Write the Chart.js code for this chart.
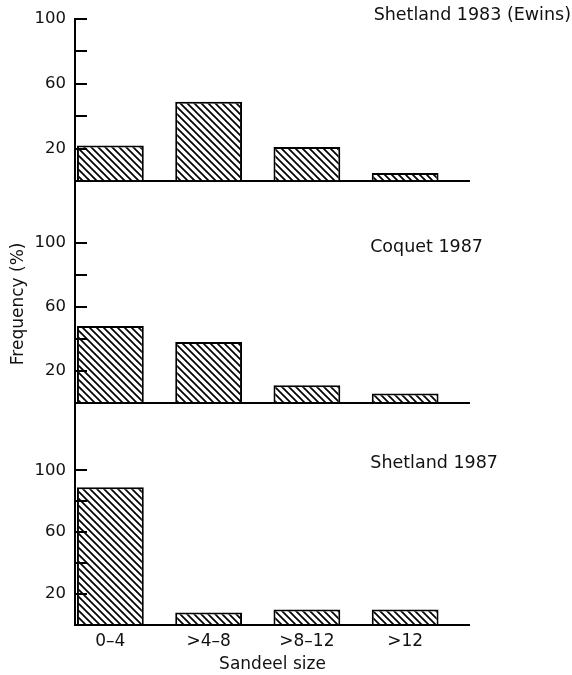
<!DOCTYPE html>
<html>
<head>
<meta charset="utf-8">
<script src="https://cdn.jsdelivr.net/npm/chart.js@4/dist/chart.umd.min.js"></script>
<style>
  html, body { margin: 0; padding: 0; background: #fff; }
  #wrap { width: 572px; height: 675px; position: relative; }
</style>
</head>
<body>
<div id="wrap"><canvas id="c" width="572" height="675"></canvas></div>
<script>
// Sandeel size classes and the frequency (%) of each in the three samples
const sizeClasses = ['0–4', '>4–8', '>8–12', '>12'];
const shetland1983 = [22, 49, 21, 5];
const coquet1987 = [48, 38, 11, 6];
const shetland1987 = [89, 8, 10, 10];
const panelTitles = ['Shetland 1983 (Ewins)', 'Coquet 1987', 'Shetland 1987'];
const yTickValues = [0, 20, 40, 60, 80, 100];
const yTickLabels = ['', '20', '', '60', '', '100'];

const FONT = '"DejaVu Sans", sans-serif';
const INK = '#111';

// diagonal "\" hatching used to fill every bar
function makeHatch() {
  const s = 7;
  const tile = document.createElement('canvas');
  tile.width = s; tile.height = s;
  const g = tile.getContext('2d');
  g.fillStyle = '#fff';
  g.fillRect(0, 0, s, s);
  g.strokeStyle = '#000';
  g.lineWidth = 1.7;
  g.beginPath();
  g.moveTo(-1, -1); g.lineTo(s + 1, s + 1);
  g.moveTo(-1, s - 1); g.lineTo(1, s + 1);
  g.moveTo(s - 1, -1); g.lineTo(s + 1, 1);
  g.stroke();
  return document.getElementById('c').getContext('2d').createPattern(tile, 'repeat');
}
const hatch = makeHatch();

// one stacked y axis per sample, top to bottom
const panels = [
  { id: 'yTop', values: shetland1983, min: -37.85, weight: 224 },
  { id: 'yMid', values: coquet1987, min: -41.9, weight: 228 },
  { id: 'yBot', values: shetland1987, min: 0, weight: 155 }
];

function yAxis(p, withTitle) {
  return {
    type: 'linear',
    position: 'left',
    stack: 'panels',
    stackWeight: p.weight,
    min: p.min,
    max: 100,
    afterFit: s => { s.width = 75; },
    afterBuildTicks: s => { s.ticks = yTickValues.map(v => ({ value: v })); },
    ticks: {
      autoSkip: false,
      padding: 9,
      color: INK,
      font: { family: FONT, size: 16.5 },
      callback: v => yTickLabels[yTickValues.indexOf(v)] ?? ''
    },
    grid: {
      drawTicks: false,
      lineWidth: 2,
      color: c => (c.tick && c.tick.value === 0 ? '#000' : 'rgba(0,0,0,0)')
    },
    border: { display: true, color: '#000', width: 2 },
    title: {
      display: withTitle,
      text: 'Frequency (%)',
      align: 'end',
      color: INK,
      font: { family: FONT, size: 17 },
      padding: { top: 8, bottom: 0 }
    }
  };
}

// inward tick marks on each panel's axis, and the sample names
const panelDecor = {
  id: 'panelDecor',
  afterDatasetsDraw(chart, args, opts) {
    const c = chart.ctx;
    c.save();
    c.strokeStyle = '#000';
    c.lineWidth = 2;
    opts.axes.forEach((id, k) => {
      const sc = chart.scales[id];
      const x0 = sc.right;
      yTickValues.filter(v => v > 0).forEach(v => {
        const y = Math.round(sc.getPixelForValue(v));
        c.beginPath();
        c.moveTo(x0 - 1, y);
        c.lineTo(x0 + 12, y);
        c.stroke();
      });
      const a = opts.titleAnchors[k];
      c.fillStyle = INK;
      c.font = '17.5px ' + FONT;
      c.textAlign = 'right';
      c.textBaseline = 'middle';
      c.fillText(panelTitles[k], a.right, sc.getPixelForValue(100) + a.dy);
    });
    c.restore();
  }
};

new Chart(document.getElementById('c'), {
  type: 'bar',
  data: {
    datasets: panels.map(p => ({
      data: p.values.map((v, i) => ({ x: i, y: v })),
      xAxisID: 'x',
      yAxisID: p.id,
      grouped: false,
      backgroundColor: hatch,
      borderColor: '#000',
      borderWidth: 2,
      barPercentage: 0.68,
      categoryPercentage: 1
    }))
  },
  options: {
    responsive: false,
    animation: false,
    events: [],
    layout: { padding: { top: 18, right: 102, bottom: 0, left: 0 } },
    plugins: {
      legend: { display: false },
      tooltip: { enabled: false },
      panelDecor: {
        axes: ['yTop', 'yMid', 'yBot'],
        titleAnchors: [{ right: 571, dy: -3 }, { right: 483, dy: 5 }, { right: 498, dy: -7 }]
      }
    },
    scales: {
      x: {
        type: 'linear',
        position: 'bottom',
        offset: false,
        min: -0.36,
        max: 3.66,
        afterFit: s => { s.height = 50; },
        afterBuildTicks: s => { s.ticks = sizeClasses.map((_, i) => ({ value: i })); },
        ticks: {
          autoSkip: false,
          maxRotation: 0,
          padding: 6,
          color: INK,
          font: { family: FONT, size: 17 },
          callback: v => sizeClasses[v] ?? ''
        },
        grid: { display: false, drawTicks: false, offset: false },
        border: { display: false },
        title: {
          display: true,
          text: 'Sandeel size',
          color: INK,
          font: { family: FONT, size: 17 },
          padding: { top: 1, bottom: 0 }
        }
      },
      yBot: yAxis(panels[2], false),
      yMid: yAxis(panels[1], true),
      yTop: yAxis(panels[0], false)
    }
  },
  plugins: [panelDecor]
});
</script>
</body>
</html>
